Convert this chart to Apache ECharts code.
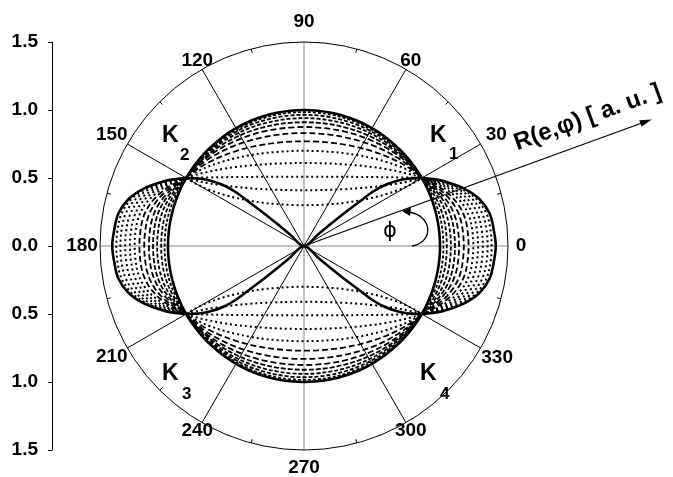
<!DOCTYPE html>
<html>
<head>
<meta charset="utf-8">
<script src="https://cdn.jsdelivr.net/npm/echarts@6/dist/echarts.min.js"></script>
<style>
  html, body { margin: 0; padding: 0; background: #fff; }
  #chart { width: 673px; height: 477px; }
</style>
</head>
<body>
<div id="chart"></div>
<script>
// ---- tick labels ----
const angleTicks = [0, 30, 60, 90, 120, 150, 180, 210, 240, 270, 300, 330];
const rulerTicks = [-1.5, -1.0, -0.5, 0.0, 0.5, 1.0, 1.5];

// ---- R(e, phi) family, one quadrant each (mirrored to the other three) ----
// upper lobe: height y of each curve at these abscissae (30..90 deg sector)
const lobeX = [0, 0.1, 0.2, 0.3, 0.4, 0.5, 0.6, 0.7, 0.76, 0.81, 0.845, 0.866];
// side bulge: radius R of each curve at these polar angles in degrees (0..30 deg sector)
const bulgePhi = [0, 5, 10, 15, 20, 25, 27.5, 30];

// e = 0: unit circle
const circleLobe = [1.0, 0.995, 0.980, 0.954, 0.917, 0.866, 0.8, 0.714, 0.650, 0.586, 0.535, 0.5];
const circleBulge = [1.0, 1.0, 1.0, 1.0, 1.0, 1.0, 1.0, 1.0];

// limiting curve (solid, through the origin)
const limitLobe = [0.0, 0.082, 0.165, 0.245, 0.32, 0.395, 0.45, 0.483, 0.494, 0.498, 0.5, 0.5];
const limitBulge = [1.41, 1.40, 1.385, 1.335, 1.245, 1.13, 1.065, 1.0];

// intermediate curves, from small e to large e
const lobeY = [
  [0.985, 0.980, 0.966, 0.940, 0.904, 0.855, 0.791, 0.708, 0.645, 0.583, 0.534, 0.5],
  [0.965, 0.960, 0.946, 0.922, 0.888, 0.840, 0.779, 0.699, 0.640, 0.580, 0.533, 0.5],
  [0.940, 0.936, 0.922, 0.900, 0.867, 0.822, 0.764, 0.688, 0.632, 0.576, 0.531, 0.5],
  [0.910, 0.906, 0.894, 0.872, 0.842, 0.800, 0.746, 0.675, 0.623, 0.571, 0.529, 0.5],
  [0.875, 0.871, 0.860, 0.841, 0.813, 0.774, 0.725, 0.660, 0.613, 0.565, 0.526, 0.5],
  [0.830, 0.827, 0.817, 0.800, 0.775, 0.742, 0.698, 0.641, 0.599, 0.557, 0.523, 0.5],
  [0.770, 0.767, 0.759, 0.745, 0.725, 0.698, 0.662, 0.616, 0.581, 0.546, 0.519, 0.5],
  [0.700, 0.698, 0.692, 0.682, 0.667, 0.646, 0.620, 0.586, 0.560, 0.534, 0.514, 0.5],
  [0.610, 0.609, 0.606, 0.600, 0.592, 0.581, 0.566, 0.547, 0.533, 0.519, 0.508, 0.5],
  [0.510, 0.510, 0.510, 0.509, 0.508, 0.507, 0.506, 0.504, 0.503, 0.502, 0.501, 0.5],
  [0.410, 0.411, 0.414, 0.418, 0.425, 0.434, 0.446, 0.461, 0.473, 0.485, 0.494, 0.5],
  [0.300, 0.302, 0.308, 0.318, 0.333, 0.354, 0.380, 0.414, 0.440, 0.466, 0.486, 0.5]
];
const bulgeR = [
  [1.025, 1.025, 1.024, 1.021, 1.015, 1.008, 1.004, 1.0],
  [1.050, 1.050, 1.048, 1.042, 1.031, 1.016, 1.008, 1.0],
  [1.080, 1.079, 1.076, 1.067, 1.049, 1.026, 1.013, 1.0],
  [1.110, 1.109, 1.105, 1.092, 1.067, 1.036, 1.018, 1.0],
  [1.140, 1.139, 1.134, 1.117, 1.085, 1.046, 1.022, 1.0],
  [1.175, 1.173, 1.167, 1.146, 1.107, 1.057, 1.028, 1.0],
  [1.210, 1.208, 1.201, 1.175, 1.128, 1.068, 1.034, 1.0],
  [1.245, 1.243, 1.234, 1.205, 1.149, 1.080, 1.039, 1.0],
  [1.280, 1.277, 1.267, 1.234, 1.171, 1.091, 1.045, 1.0],
  [1.315, 1.312, 1.301, 1.263, 1.192, 1.102, 1.050, 1.0],
  [1.350, 1.347, 1.334, 1.292, 1.214, 1.114, 1.056, 1.0],
  [1.380, 1.376, 1.363, 1.317, 1.232, 1.124, 1.061, 1.0]
];

// line pattern of each intermediate curve
const curveDash = [
  [3, 2], [4, 2], [4, 2], [5, 2], [6, 3], [6, 3], [6, 3],
  [2, 3], [2, 3], [2, 3], [2, 3], [2, 3]
];

// ---- geometry of the plot ----
const CX = 304, CY = 246, RAD = 204;
// distance of each angle label's centre from the pole, px
const labelRadius = [217, 222, 213.5, 224, 213.5, 222, 222, 222, 213.5, 222, 213.5, 223];
const ARROW_PHI = 20, ARROW_LEN = 370;
const numFont = 'Liberation Sans';

// upper (sign = 1) or lower (sign = -1) lobe arc, from x = -0.866 to 0.866
function lobeArc(ys, sign) {
  const pts = [];
  for (let i = lobeX.length - 1; i > 0; i--) pts.push([-lobeX[i], sign * ys[i]]);
  for (let i = 0; i < lobeX.length; i++) pts.push([lobeX[i], sign * ys[i]]);
  return pts;
}
// right (base = 0) or left (base = 180) bulge, as [radius, angle]
function bulgeArc(rs, base) {
  const pts = [];
  for (let i = bulgePhi.length - 1; i > 0; i--) pts.push([rs[i], (base === 0 ? 360 : base) - bulgePhi[i]]);
  for (let i = 0; i < bulgePhi.length; i++) pts.push([rs[i], base + bulgePhi[i]]);
  return pts;
}

function curveSeries(lobe, bulge, lineStyle, z) {
  const common = { type: 'line', showSymbol: false, symbol: 'none', silent: true,
    animation: false, smooth: 0.35, lineStyle: lineStyle, z: z, clip: false };
  return [
    Object.assign({ coordinateSystem: 'cartesian2d', data: lobeArc(lobe, 1) }, common),
    Object.assign({ coordinateSystem: 'cartesian2d', data: lobeArc(lobe, -1) }, common),
    Object.assign({ coordinateSystem: 'polar', polarIndex: 0, data: bulgeArc(bulge, 0) }, common),
    Object.assign({ coordinateSystem: 'polar', polarIndex: 0, data: bulgeArc(bulge, 180) }, common)
  ];
}

const series = [];
lobeY.forEach(function (ys, k) {
  const dash = curveDash[k];
  const dotted = dash[0] <= 2;
  series.push.apply(series, curveSeries(ys, bulgeR[k],
    { color: '#000', width: dotted ? 2 : 1.8, type: dash, cap: 'butt' }, 3));
});
series.push.apply(series, curveSeries(circleLobe, circleBulge, { color: '#000', width: 2.6, type: 'solid' }, 5));
series.push.apply(series, curveSeries(limitLobe, limitBulge, { color: '#000', width: 2.6, type: 'solid' }, 5));

// angle labels, centred just outside the rim
const angleLabels = angleTicks.map(function (deg, i) {
  const t = deg * Math.PI / 180, lr = labelRadius[i];
  return { type: 'text', z: 10, x: CX + lr * Math.cos(t), y: CY - lr * Math.sin(t),
    style: { text: String(deg), font: 'bold 19px "' + numFont + '"', fill: '#000', align: 'center', verticalAlign: 'middle' } };
});

// direction arrow with its title
const a = ARROW_PHI * Math.PI / 180;
const ax = CX + ARROW_LEN * Math.cos(a), ay = CY - ARROW_LEN * Math.sin(a);
const ux = Math.cos(a), uy = -Math.sin(a);
const head = [[ax, ay],
  [ax - 12 * ux - 3.5 * uy, ay - 12 * uy + 3.5 * ux],
  [ax - 12 * ux + 3.5 * uy, ay - 12 * uy - 3.5 * ux]];

const kFont = 'bold 23px "Liberation Sans"', subFont = 'bold 17px "Liberation Sans"';

const option = {
  backgroundColor: '#fff',
  animation: false,
  grid: { left: CX - RAD, top: CY - RAD, width: 2 * RAD, height: 2 * RAD, containLabel: false, outerBoundsMode: 'none' },
  xAxis: { type: 'value', min: -1.5, max: 1.5, show: false },
  yAxis: {
    type: 'value', position: 'left', offset: 48,
    min: rulerTicks[0], max: rulerTicks[rulerTicks.length - 1], interval: 0.5,
    axisLine: { show: true, onZero: false, lineStyle: { color: '#000', width: 1 } },
    axisTick: { show: true, inside: false, length: 4, lineStyle: { color: '#000' } },
    splitLine: { show: false },
    axisLabel: {
      margin: 14, color: '#000', fontFamily: numFont, fontWeight: 'bold', fontSize: 19,
      formatter: function (v) {
        const t = rulerTicks.find(function (r) { return Math.abs(r - v) < 1e-6; });
        return t === undefined ? '' : Math.abs(t).toFixed(1);
      }
    }
  },
  polar: { center: [CX, CY], radius: RAD },
  radiusAxis: { type: 'value', min: 0, max: 1.5, show: false },
  angleAxis: {
    type: 'value', min: 0, max: 360, interval: 30, startAngle: 0, clockwise: false,
    axisLine: { show: true, lineStyle: { color: '#000', width: 1 } },
    axisTick: { show: false, inside: true },
    minorTick: { show: true, splitNumber: 2, length: 4, lineStyle: { color: '#000', width: 1 } },
    splitLine: { show: true, lineStyle: { color: ['#8a8a8a', '#000', '#000'], width: 1 } },
    axisLabel: { show: false }
  },
  graphic: angleLabels.concat([
    // crossing points of the family
    { type: 'text', x: 430, y: 136, z: 10, style: { text: 'K', font: kFont, fill: '#000', verticalAlign: 'middle' } },
    { type: 'text', x: 449, y: 154, z: 10, style: { text: '1', font: subFont, fill: '#000', verticalAlign: 'middle' } },
    { type: 'text', x: 162, y: 136, z: 10, style: { text: 'K', font: kFont, fill: '#000', verticalAlign: 'middle' } },
    { type: 'text', x: 180, y: 155, z: 10, style: { text: '2', font: subFont, fill: '#000', verticalAlign: 'middle' } },
    { type: 'text', x: 162, y: 374, z: 10, style: { text: 'K', font: kFont, fill: '#000', verticalAlign: 'middle' } },
    { type: 'text', x: 182, y: 394, z: 10, style: { text: '3', font: subFont, fill: '#000', verticalAlign: 'middle' } },
    { type: 'text', x: 420, y: 374, z: 10, style: { text: 'K', font: kFont, fill: '#000', verticalAlign: 'middle' } },
    { type: 'text', x: 440, y: 394, z: 10, style: { text: '4', font: subFont, fill: '#000', verticalAlign: 'middle' } },
    // radius direction arrow
    { type: 'line', z: 8, shape: { x1: CX, y1: CY, x2: ax - 6 * ux, y2: ay - 6 * uy }, style: { stroke: '#000', lineWidth: 1.3 } },
    { type: 'polygon', z: 8, shape: { points: head }, style: { fill: '#000' } },
    { type: 'text', x: 515, y: 144, rotation: a, z: 10,
      style: { text: 'R(e,\u03c6) [ a. u. ]', font: 'bold 24px "Liberation Sans"', fill: '#000', align: 'left', verticalAlign: 'middle' } },
    // angle marker
    { type: 'text', x: 390, y: 232, z: 10,
      style: { text: '\u03d5', font: '21px "DejaVu Sans"', fill: '#000', align: 'center', verticalAlign: 'middle' } },
    { type: 'bezierCurve', z: 10, shape: { x1: 412, y1: 246, cpx1: 434, cpy1: 242, cpx2: 433, cpy2: 216, x2: 409, y2: 212 },
      style: { stroke: '#000', lineWidth: 1.3, fill: null } },
    { type: 'polygon', z: 10, shape: { points: [[402, 211], [411, 207], [410, 216]] }, style: { fill: '#000' } }
  ]),
  series: series
};

const chart = echarts.init(document.getElementById('chart'));
chart.setOption(option);
</script>
</body>
</html>
